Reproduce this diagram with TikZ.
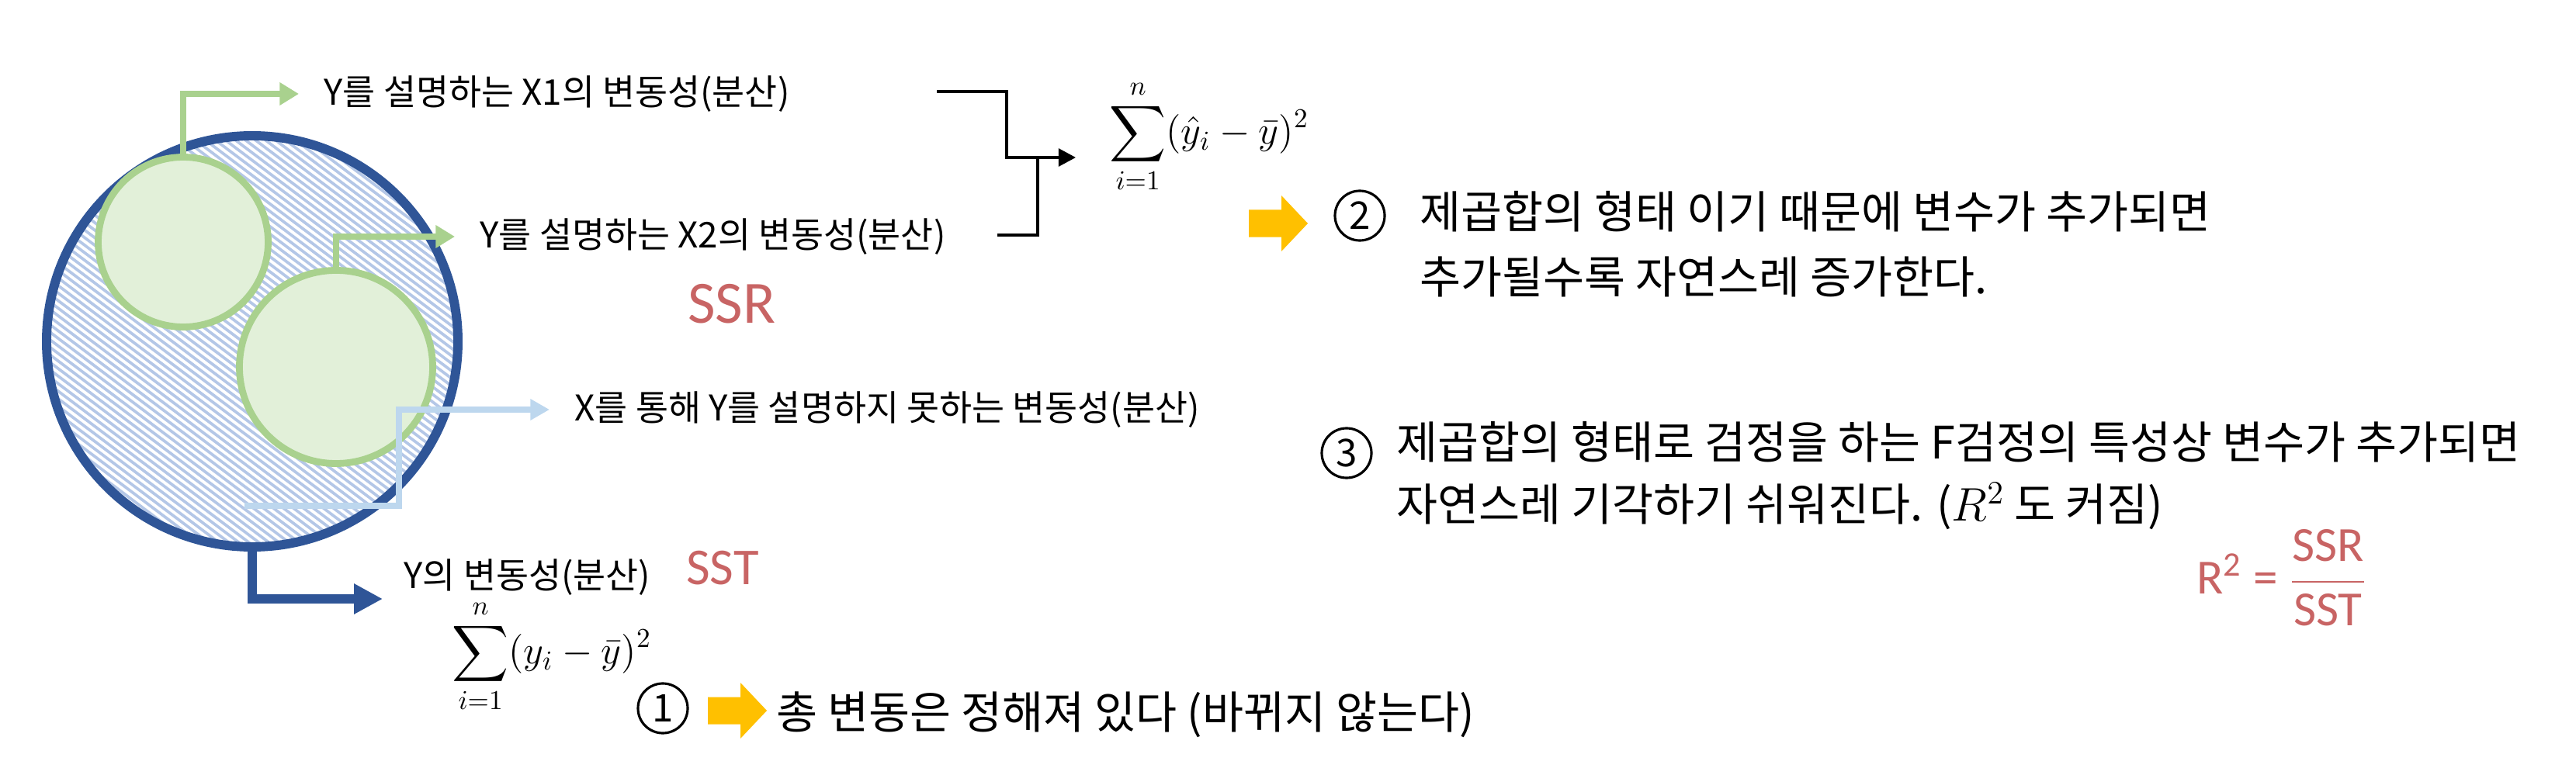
\documentclass[tikz,border=0pt]{standalone}
\usepackage{amsmath}
\usepackage{fontspec}
\setmainfont{Noto Sans CJK KR}
\newfontfamily\handfont{Carlito}
\usepackage{tikz}
\usetikzlibrary{arrows.meta,positioning}
\definecolor{totblue}{HTML}{2F5597}
\definecolor{hatchblue}{HTML}{B4C7E7}
\definecolor{resblue}{HTML}{BDD7EE}
\definecolor{xgreen}{HTML}{A9D18E}
\definecolor{xfill}{HTML}{E2F0D9}
\definecolor{arrowyellow}{HTML}{FFC000}
\definecolor{penred}{HTML}{C86464}

\begin{document}
\begin{tikzpicture}[
  lab/.style={anchor=west, inner sep=0pt, font=\fontsize{13}{15}\selectfont},
  body/.style={anchor=west, inner sep=0pt, align=left, font=\fontsize{16.4}{24}\selectfont},
  numcirc/.style={circle, draw, line width=0.9pt, minimum size=0.64cm, inner sep=0pt,
    font=\fontsize{14}{16}\selectfont},
  xcirc/.style={circle, draw=xgreen, fill=xfill, line width=2.5pt, inner sep=0pt},
  xarrow/.style={draw=xgreen, line width=2.5pt, -{Triangle[length=7pt,width=8pt]},
    shorten >=0.32cm},
  resarrow/.style={draw=resblue, line width=2.3pt, -{Triangle[length=7pt,width=7.4pt]},
    shorten >=0.32cm},
  totarrow/.style={draw=totblue, line width=3.4pt, -{Triangle[length=10.5pt,width=10.5pt]}},
  hatchline/.style={draw=hatchblue, line width=1.05pt},
  brk/.style={line width=1pt},
  sumf/.style={inner sep=0pt, font=\fontsize{14}{16}\selectfont},
  penlab/.style={text=penred, inner sep=0pt, font=\handfont\fontsize{22}{24}\selectfont},
  pics/yarrow/.style={code={
    \fill[arrowyellow] (0,0.175) -- (0.42,0.175) -- (0.42,0.36) -- (0.76,0)
      -- (0.42,-0.36) -- (0.42,-0.175) -- (0,-0.175) -- cycle;}}
]
\useasboundingbox (0,0) rectangle (33.19,-9.99);

\begin{scope}
\clip (3.25,-4.40) circle (2.65);
\foreach \k in {-36,...,36}
  \draw[hatchline, shift={(\k*0.0467,\k*0.062)}] (0.85,-2.59) -- (5.65,-6.21);
\end{scope}
\node[circle, draw=totblue, line width=3.4pt, minimum size=5.30cm] (tot) at (3.25,-4.40) {};
\node[xcirc, minimum size=2.19cm] (x1) at (2.36,-3.12) {};
\node[xcirc, minimum size=2.49cm] (x2) at (4.33,-4.73) {};

\node[lab] (x1lab) at (4.17,-1.21) {Y를 설명하는 X1의 변동성(분산)};
\node[lab] (x2lab) at (6.18,-3.05) {Y를 설명하는 X2의 변동성(분산)};
\node[lab] (reslab) at (7.40,-5.28) {X를 통해 Y를 설명하지 못하는 변동성(분산)};
\node[lab] (ylab) at (5.20,-7.44) {Y의 변동성(분산)};

\draw[xarrow] (x1.north) |- (x1lab.west);
\draw[xarrow] (x2.north) |- (x2lab.west);

\coordinate (res) at (3.15,-6.52);
\coordinate (resbend) at (5.14,-6.52);
\draw[resarrow] (res) -- (resbend) |- (reslab.west);

\coordinate (ytip) at (4.93,-7.72);
\draw[totarrow] (tot.south) |- (ytip);

\coordinate (b1) at (12.07,-1.18);
\coordinate (b2) at (12.85,-3.03);
\coordinate (bj1) at (12.97,-2.03);
\coordinate (bj2) at (13.37,-2.03);
\coordinate (btip) at (13.86,-2.03);
\draw[brk, -{Triangle[length=6.3pt,width=6.5pt]}] (b1) -| (bj1) -- (btip);
\draw[brk] (b2) -| (bj2);

\node[sumf] (ssr) at (15.58,-1.76) {$\displaystyle\sum_{i=1}^{n}(\hat{y}_i-\bar{y})^2$};
\node[sumf] (sst) at (7.11,-8.46) {$\displaystyle\sum_{i=1}^{n}(y_i-\bar{y})^2$};

\node[penlab] (ssrpen) at (9.43,-3.92) {SSR};
\node[penlab, font=\handfont\fontsize{19}{21}\selectfont] (sstpen) at (9.31,-7.32) {SST};
\node[penlab, font=\handfont\fontsize{18}{20}\selectfont] (rsqpen) at (29.40,-7.45)
  {R\textsuperscript{2} = $\dfrac{\text{SSR}}{\text{SST}}$};

\node[numcirc] (one) at (8.54,-9.13) {1};
\pic at (9.12,-9.16) {yarrow};
\node[body] (onetxt) at (10.00,-9.21) {총 변동은 정해져 있다 (바뀌지 않는다)};

\pic at (16.09,-2.88) {yarrow};
\node[numcirc] (two) at (17.52,-2.78) {2};
\node[body] (twotxt) at (18.29,-3.15)
  {제곱합의 형태 이기 때문에 변수가 추가되면\\추가될수록 자연스레 증가한다.};

\node[numcirc] (three) at (17.35,-5.84) {3};
\node[body, font=\fontsize{16.4}{23}\selectfont] (threetxt) at (17.99,-6.13)
  {제곱합의 형태로 검정을 하는 F검정의 특성상 변수가 추가되면\\자연스레 기각하기 쉬워진다. (\(R^2\) 도 커짐)};
\end{tikzpicture}
\end{document}
